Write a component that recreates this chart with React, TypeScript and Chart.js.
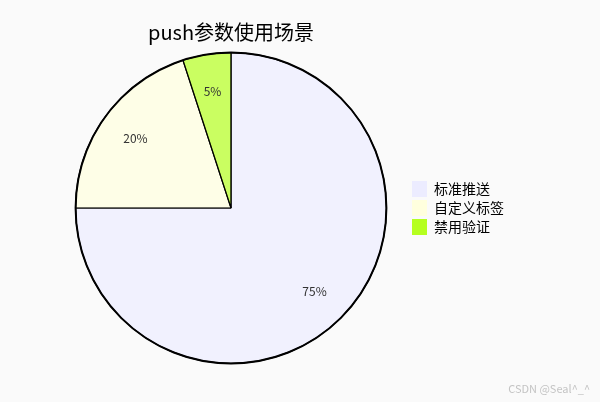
import { useEffect, useRef } from "react"
import { Chart, registerables } from "chart.js"

Chart.register(...registerables)

const titleText = "push参数使用场景"
const categories = ["标准推送", "自定义标签", "禁用验证"]
const shares = [75, 20, 5]
// slice fills are the legend colours at 0.7 opacity
const sliceColors = ["rgba(236,236,255,0.7)", "rgba(255,255,222,0.7)", "rgba(181,255,32,0.7)"]
const legendColors = ["#ECECFF", "#FFFFDE", "#B5FF20"]

const FONT = "'Noto Sans CJK SC', 'Noto Sans', sans-serif"

// percentage text at ~3/4 of the radius, plus the thicker outer ring
const pieDecor = {
  id: "pieDecor",
  afterDatasetsDraw(chart: Chart) {
    const { ctx } = chart
    const meta = chart.getDatasetMeta(0)
    const values = chart.data.datasets[0].data as number[]
    const total = values.reduce((a, b) => a + b, 0)
    ctx.save()
    ctx.font = `12px ${FONT}`
    ctx.fillStyle = "#333"
    ctx.textAlign = "center"
    ctx.textBaseline = "middle"
    meta.data.forEach((el: any, i) => {
      const { x, y, startAngle, endAngle, outerRadius } = el.getProps(
        ["x", "y", "startAngle", "endAngle", "outerRadius"],
        true
      )
      const mid = (startAngle + endAngle) / 2
      const r = outerRadius * 0.76
      const pct = Math.round((values[i] / total) * 100)
      ctx.fillText(`${pct}%`, x + Math.cos(mid) * r, y + Math.sin(mid) * r)
    })
    const first: any = meta.data[0]
    if (first) {
      ctx.beginPath()
      ctx.lineWidth = 2
      ctx.strokeStyle = "#000"
      ctx.arc(first.x, first.y, first.outerRadius, 0, Math.PI * 2)
      ctx.stroke()
    }
    ctx.restore()
  },
}

export default function App() {
  const canvasRef = useRef<HTMLCanvasElement>(null)

  useEffect(() => {
    if (!canvasRef.current) return
    document.body.style.margin = "0"

    const chart = new Chart(canvasRef.current, {
      type: "pie",
      data: {
        labels: categories,
        datasets: [
          {
            data: shares,
            backgroundColor: sliceColors,
            borderColor: "#000",
            borderWidth: 1.2,
          },
        ],
      },
      options: {
        responsive: false,
        animation: false,
        layout: { padding: { top: 0, bottom: 38, left: 53, right: 86 } },
        plugins: {
          tooltip: { enabled: false },
          title: {
            display: true,
            text: titleText,
            fullSize: false,
            color: "#000",
            font: { family: FONT, size: 20, weight: "normal" },
            padding: { top: 20, bottom: 8 },
          },
          legend: {
            position: "right",
            fullSize: false,
            labels: {
              boxWidth: 15,
              boxHeight: 16,
              padding: 3,
              color: "#000",
              font: { family: FONT, size: 14 },
              generateLabels: () =>
                categories.map((c, i) => ({
                  text: c,
                  fillStyle: legendColors[i],
                  strokeStyle: legendColors[i],
                  lineWidth: 0,
                  hidden: false,
                  index: i,
                })),
            },
          },
        },
      },
      plugins: [pieDecor],
    })

    return () => chart.destroy()
  }, [])

  return (
    <div style={{ position: "relative", width: 600, height: 402, background: "#FAFAFA" }}>
      <canvas ref={canvasRef} width={600} height={402} />
      <div
        style={{
          position: "absolute",
          right: 10,
          bottom: 6,
          fontFamily: FONT,
          fontSize: 11,
          color: "#c4c4c4",
        }}
      >
        CSDN @Seal^_^
      </div>
    </div>
  )
}
